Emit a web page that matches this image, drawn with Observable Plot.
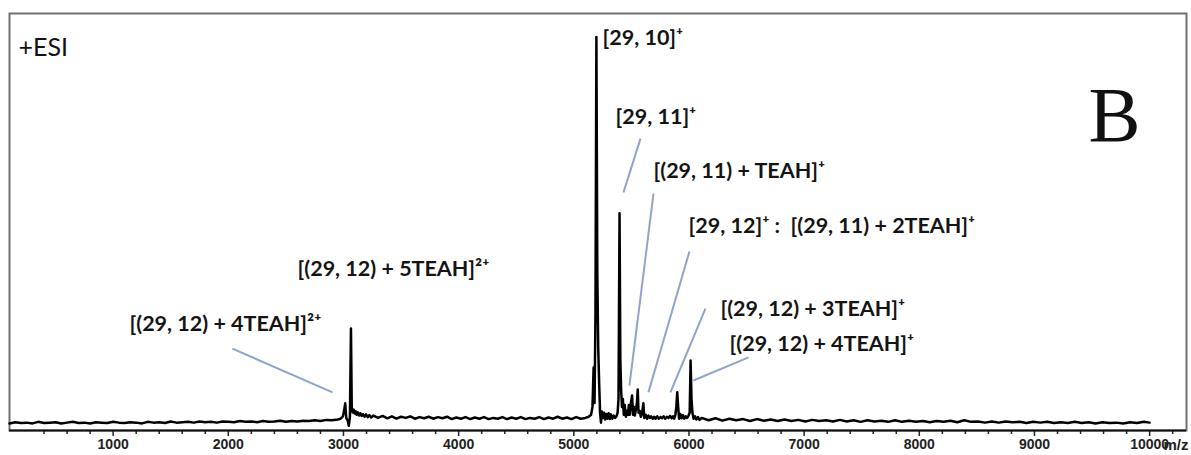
<!DOCTYPE html>
<html><head><meta charset="utf-8">
<script src="https://cdn.jsdelivr.net/npm/d3@7"></script>
<script src="https://cdn.jsdelivr.net/npm/@observablehq/plot@0.6"></script>
<style>body{margin:0;background:#fff} svg{display:block}</style>
</head><body><div id="chart"></div>
<script>
// m/z values of the trace
const spectrumMz = [
  100,150,200,250,300,350,400,450,500,550,
  600,650,700,750,800,850,900,950,1000,1050,
  1100,1150,1200,1250,1300,1350,1400,1450,1500,1550,
  1600,1650,1700,1750,1800,1850,1900,1950,2000,2050,
  2100,2150,2200,2250,2300,2350,2400,2450,2500,2550,
  2600,2650,2700,2750,2800,2850,2900,2950,
  2975,2995,3005,3015,3024,3036,3046,3056,3065,3072,
  3080,3088,3096,3105,3114,3124,3135,3146,3158,3170,
  3183,3196,3210,3225,3240,
  3260,3300,3340,3380,3420,3460,3500,3540,3580,3620,
  3660,3700,3740,3780,3820,3860,3900,3940,3980,4020,
  4060,4100,4140,4180,4220,4260,4300,4340,4380,4420,
  4460,4500,4540,4580,4620,4660,4700,4740,4780,4820,
  4860,4900,4940,4980,5020,5060,5100,5130,
  5150,5162,5172,5180,5188,5196,5204,5212,5220,5228,
  5236,5244,5252,5262,5272,5282,5292,5302,5312,5322,
  5334,5346,5358,5370,5380,5388,5397,5404,5411,5418,
  5426,5434,5442,5452,5462,5470,5478,5486,5496,5506,
  5514,5522,5530,5540,5548,5555,5562,5572,5582,5592,
  5604,5612,5624,5636,5648,5660,5672,5686,5698,5710,
  5724,5738,5752,5766,5780,5794,5808,5822,5836,5850,
  5862,5872,5882,5890,5898,5906,5914,5924,5936,5948,
  5960,5972,5984,5996,6006,6014,6022,6030,6040,6052,
  6064,6078,6092,
  6110,6170,6230,6290,6350,6410,6470,6530,6590,6650,
  6710,6770,6830,6890,6950,7010,7070,7130,7190,7250,
  7310,7370,7430,7490,7550,7610,7670,7730,7790,7850,
  7910,7970,8030,8090,8150,8210,8270,8330,8390,8450,
  8510,8570,8630,8690,8750,8810,8870,8930,8990,9050,
  9110,9170,9230,9290,9350,9410,9470,9530,9590,9650,
  9710,9770,9830,9890,9950,10000
];
// relative intensity (%) of the trace
const spectrumIntensity = [
  1.8,2.1,1.9,2.0,1.8,2.2,1.9,2.0,2.1,1.8,
  2.0,2.2,1.9,2.0,1.8,2.1,2.0,1.9,2.2,2.0,
  1.9,2.1,2.0,1.8,2.2,2.0,2.1,1.9,2.3,2.0,
  2.1,2.2,2.0,2.3,2.1,2.2,2.0,2.3,2.2,2.1,
  2.4,2.2,2.3,2.1,2.4,2.2,2.3,2.5,2.2,2.4,
  2.3,2.5,2.4,2.6,2.4,2.7,2.6,2.8,
  3.0,3.6,5.0,6.9,3.2,2.6,1.2,3.5,25.9,5.5,
  4.6,5.3,4.3,4.9,4.0,4.6,3.8,4.4,3.7,4.2,
  3.5,4.1,3.4,3.9,3.3,
  3.8,3.2,3.7,3.1,3.6,3.0,3.5,3.2,3.6,3.0,
  3.4,3.1,3.5,3.0,3.4,3.1,3.5,2.9,3.3,3.0,
  3.4,2.9,3.3,3.0,3.4,2.9,3.2,3.0,3.4,2.9,
  3.3,3.0,3.4,2.9,3.2,3.0,3.4,2.9,3.3,3.0,
  3.5,3.0,3.3,2.9,3.4,3.0,3.2,3.5,
  4.0,6.0,16.0,7.0,30.0,100,40,21,12,4.5,
  2.0,4.8,3.2,4.5,2.8,4.2,3.0,4.4,2.9,4.1,
  3.0,3.8,3.2,3.6,4.5,8.0,55.2,18,10.2,6.0,
  8.0,4.0,6.5,3.5,5.0,4.0,6.5,4.0,7.0,8.9,
  4.0,6.0,3.8,5.5,7.0,10.4,4.5,5.0,3.5,4.2,
  6.9,3.2,4.0,3.0,3.8,3.2,3.6,3.0,3.5,3.0,
  3.6,3.0,3.4,3.1,3.6,3.0,3.5,3.2,3.7,3.1,
  3.6,3.0,4.0,6.0,9.7,6.0,3.0,4.2,3.1,3.9,
  3.0,3.6,3.2,3.8,4.5,17.8,8.0,4.5,3.0,3.6,
  2.8,3.4,2.7,
  3.2,2.6,3.1,2.5,3.0,2.6,2.9,2.4,2.9,2.5,
  2.8,2.4,2.8,2.4,2.7,2.3,2.7,2.4,2.6,2.3,
  2.7,2.3,2.6,2.2,2.6,2.3,2.5,2.2,2.6,2.2,
  2.5,2.2,2.4,2.1,2.4,2.2,2.5,2.1,2.6,2.2,
  2.3,2.0,2.3,2.0,2.3,2.1,2.2,1.9,2.2,2.0,
  2.2,1.9,2.1,1.9,2.2,1.9,2.1,1.8,2.1,1.9,
  2.0,1.8,2.1,1.9,2.2,2.0
];
const majorTicks = [1000,2000,3000,4000,5000,6000,7000,8000,9000,10000];
const minorTicks = [400,600,800,1200,1400,1600,1800,2200,2400,2600,2800,3200,3400,3600,3800,
  4200,4400,4600,4800,5200,5400,5600,5800,6200,6400,6600,6800,7200,7400,7600,7800,
  8200,8400,8600,8800,9200,9400,9600,9800,10200];

// peak annotations (anchor of each label in data units)
const labelText = [
  "[29, 10]⁺",
  "[29, 11]⁺",
  "[(29, 11) + TEAH]⁺",
  "[29, 12]⁺ :  [(29, 11) + 2TEAH]⁺",
  "[(29, 12) + 5TEAH]²⁺",
  "[(29, 12) + 4TEAH]²⁺",
  "[(29, 12) + 3TEAH]⁺",
  "[(29, 12) + 4TEAH]⁺"
];
const labelMz = [5249, 5362, 5692, 5996, 2601, 1142, 6273, 6352];
const labelIntensity = [97.9, 77.8, 64.3, 50.1, 39.4, 25.2, 29.2, 20.3];

// leader lines (from label to peak)
const leaderFromMz = [2036, 5579, 5692, 6004, 6143, 6517];
const leaderFromIntensity = [20.8, 74.2, 60.2, 45.5, 31.0, 18.6];
const leaderToMz = [2905, 5431, 5483, 5648, 5839, 6039];
const leaderToIntensity = [9.7, 60.5, 11.4, 9.7, 9.7, 12.7];

const spectrum = spectrumMz.map((mz, i) => ({mz, intensity: spectrumIntensity[i]}));
const labels = labelText.map((text, i) => ({text, mz: labelMz[i], intensity: labelIntensity[i]}));
const leaders = leaderFromMz.map((m, i) => ({x1: m, y1: leaderFromIntensity[i], x2: leaderToMz[i], y2: leaderToIntensity[i]}));

const chart = Plot.plot({
  width: 1191, height: 455,
  marginLeft: 9, marginRight: 5, marginTop: 13, marginBottom: 25,
  x: {domain: [100, 10320], label: null},
  y: {domain: [0, 106], label: null, axis: null},
  style: {fontFamily: "Lato, 'Noto Sans', sans-serif", background: "#fff", overflow: "visible"},
  marks: [
    Plot.frame({stroke: "#707070", strokeWidth: 2}),
    Plot.axisX(minorTicks, {tickSize: 4, tickFormat: () => "", stroke: "#222", strokeWidth: 1.5, label: null}),
    Plot.axisX(majorTicks, {tickSize: 6, tickPadding: 3, fontSize: 14, fontWeight: "bold",
      fontFamily: "'Liberation Sans', Arial, sans-serif", fill: "#222", stroke: "#222", strokeWidth: 1.5,
      tickFormat: d => String(d), label: null}),
    Plot.ruleY([0], {stroke: "#111", strokeWidth: 2}),
    Plot.line(spectrum, {x: "mz", y: "intensity", stroke: "#000", strokeWidth: 2.5}),
    Plot.link(leaders, {x1: "x1", y1: "y1", x2: "x2", y2: "y2", stroke: "#8fa4c8", strokeWidth: 2}),
    Plot.text(labels, {x: "mz", y: "intensity", text: "text", textAnchor: "start", lineAnchor: "bottom",
      fontSize: 21.5, fontWeight: "bold", fill: "#141414"}),
    Plot.text(["+ESI"], {frameAnchor: "top-left", dx: 9, dy: 42, lineAnchor: "bottom", textAnchor: "start",
      fontSize: 25, fill: "#111"}),
    Plot.text(["B"], {frameAnchor: "top-right", dx: -46, dy: 127, lineAnchor: "bottom", textAnchor: "end",
      fontSize: 78, fontFamily: "'Liberation Serif', 'Times New Roman', serif", fill: "#111"}),
    Plot.text(["m/z"], {frameAnchor: "bottom-right", dx: 2, dy: 15, lineAnchor: "middle", textAnchor: "end",
      fontSize: 15, fontWeight: "bold", fontFamily: "'Liberation Sans', Arial, sans-serif", fill: "#222"})
  ]
});
document.getElementById("chart").appendChild(chart);
</script>
</body></html>
